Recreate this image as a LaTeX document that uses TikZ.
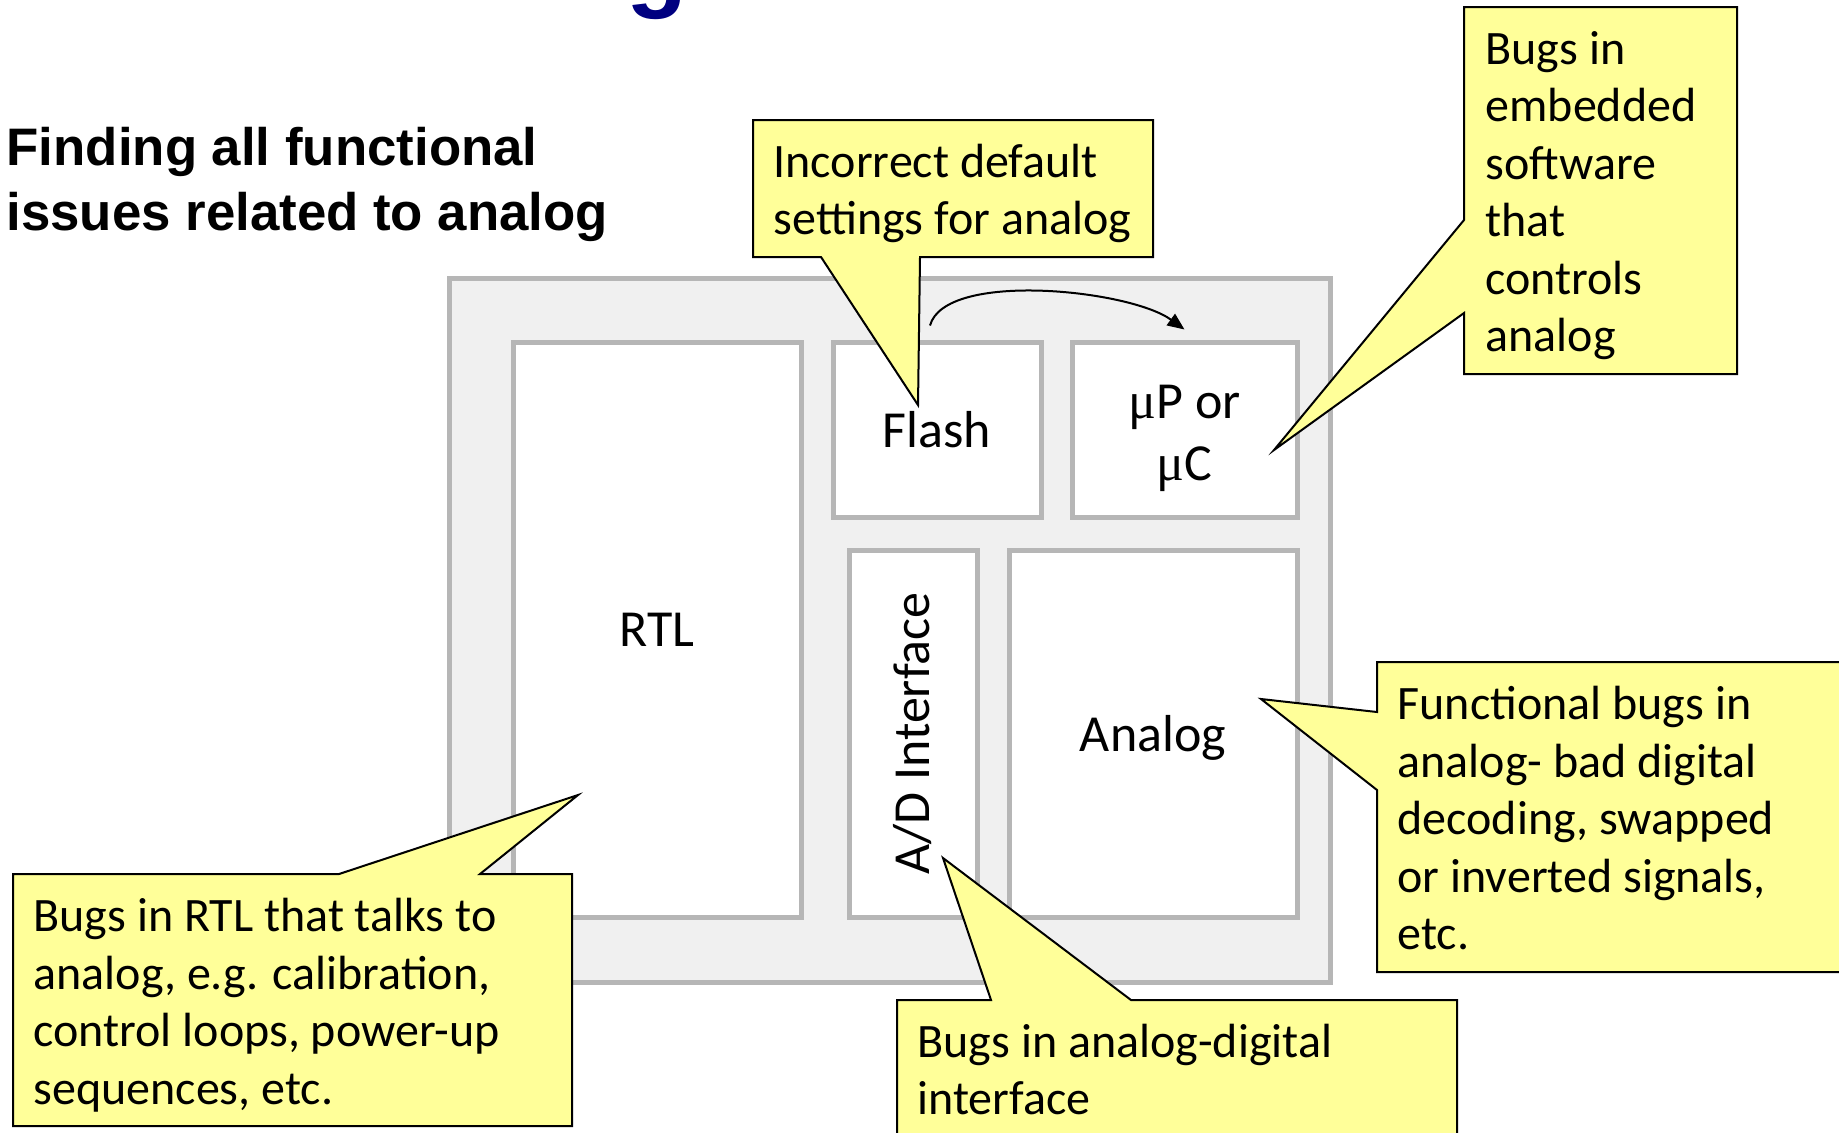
\documentclass[tikz,border=0pt]{standalone}
\usepackage{fontspec}
\setmainfont{Carlito}
\newfontfamily\titlefont{Liberation Sans}
\newfontfamily\mufont{Liberation Serif}
\usetikzlibrary{positioning,arrows.meta}
\definecolor{notefill}{RGB}{255,255,153}
\definecolor{chipgray}{RGB}{240,240,240}
\definecolor{blkline}{RGB}{182,182,182}
\definecolor{titleblue}{RGB}{0,0,128}

\begin{document}
\begin{tikzpicture}[x=0.5pt, y=-0.5pt, semithick,
        chip/.style ={rectangle, draw=blkline, fill=chipgray, line width=2.5pt},
        blk/.style ={rectangle, draw=blkline, fill=white, line width=2.5pt, inner sep=0pt,
            align=center, font=\fontsize{26}{31}\selectfont},
        note/.style ={draw=black, fill=notefill, line width=1pt},
        notetext/.style ={anchor=west, align=left, inner sep=0pt, font=\fontsize{24}{28.75}\selectfont},
        flow/.style ={-{Triangle[length=8.5pt,width=7pt]}, line width=1pt}]

        \useasboundingbox (0,0) rectangle (1839,1132);

        % titulo de la pagina, cortado arriba
        \begin{scope}
        \clip (0,0) rectangle (1839,1132);
        \node[anchor=base west, inner sep=0pt, text=titleblue,
            font=\titlefont\bfseries\fontsize{50}{60}\selectfont] (cut) at (626,-2) {g};
        \end{scope}

        \node[anchor=base west, align=left, inner sep=0pt,
            font=\titlefont\bfseries\fontsize{26.4}{32.25}\selectfont] (goal) at (6,230)
            {Finding all functional\\issues related to analog};

        % bloques del chip
        \node[chip, minimum width=440.5pt, minimum height=352pt] (chip) at (889.5,630) {};
        \node[blk, minimum width=144pt, minimum height=287.5pt] (rtl) at (657,629.5) {RTL};
        \node[blk, minimum width=104pt, minimum height=87.5pt] (flash) at (937,429.5) {Flash};
        \node[blk, minimum width=112.5pt, minimum height=87.5pt] (mp) at (1184.5,429.5) {};
        \node[align=center, inner sep=0pt, font=\fontsize{26}{31}\selectfont] (mptext) at ([yshift=-4.5pt]mp.center)
            {{\mufont μ}P or\\{\mufont μ}C};
        \node[blk, rotate=90, minimum width=183.5pt, minimum height=64pt] (ad) at (913,733.5) {A/D Interface};
        \node[blk, text depth=0pt, minimum width=144pt, minimum height=183.5pt] (analog) at (1153,733.5) {Analog};

        \coordinate (fs) at ([xshift=-3.5pt,yshift=7pt]flash.north);
        \coordinate (me) at ([yshift=5pt]mp.north);
        \draw[flow] (fs) .. controls +(15,-55) and +(-55,-40) .. (me);

        % notas
        \draw[note] (753,120) -- (1153,120) -- (1153,257) -- (920,257) -- (918,405) -- (821,257) -- (753,257) -- cycle;
        \node[notetext] (nflash) at (773,193.5) {Incorrect default\\settings for analog};

        \draw[note] (1464,7) -- (1737,7) -- (1737,374) -- (1464,374) -- (1464,313) -- (1274,450) -- (1464,220) -- cycle;
        \node[notetext] (nsoft) at (1485,195.5) {Bugs in\\embedded\\software\\that\\controls\\analog};

        \draw[note] (1377,662) -- (1860,662) -- (1860,972) -- (1377,972) -- (1377,790) -- (1261,699) -- (1377,712) -- cycle;
        \node[notetext] (nanalog) at (1397,818)
            {Functional bugs in\\analog- bad digital\\decoding, swapped\\or inverted signals,\\etc.};

        \draw[note] (13,874) -- (339,874) -- (578,795) -- (480,874) -- (572,874) -- (572,1126) -- (13,1126) -- cycle;
        \node[notetext] (nrtl) at (33,1005)
            {Bugs in RTL that talks to\\analog, e.g. calibration,\\control loops, power-up\\sequences, etc.};

        \draw[note] (897,1000) -- (991,1000) -- (943,858) -- (1131,1000) -- (1457,1000) -- (1457,1140) -- (897,1140) -- cycle;
        \node[notetext] (nad) at (917,1069.5) {Bugs in analog-digital\\interface};

\end{tikzpicture}
\end{document}
